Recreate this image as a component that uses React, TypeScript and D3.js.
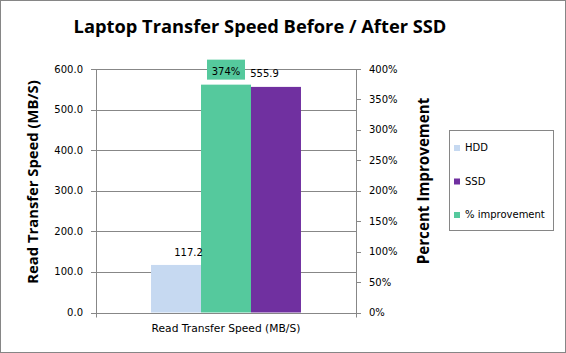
import React from "react";
import * as d3 from "d3";

const title = "Laptop Transfer Speed Before / After SSD";
const category = "Read Transfer Speed (MB/S)";
const seriesOrder = ["HDD", "% improvement", "SSD"];
const speedValues = { HDD: 117.2, SSD: 555.9 };
const improvement = 3.743; // fraction (374%)
const leftTicks = [0, 100, 200, 300, 400, 500, 600];
const rightTicks = [0, 0.5, 1, 1.5, 2, 2.5, 3, 3.5, 4];
const legendItems = ["HDD", "SSD", "% improvement"];
const colors: Record<string, string> = {
  HDD: "#C6D9F1",
  SSD: "#7030A0",
  "% improvement": "#55C99D",
};

const W = 566;
const H = 353;
const plotL = 96;
const plotR = 356;
const plotT = 69;
const plotB = 312.5;
const font = "'DejaVu Sans', Verdana, sans-serif";
const boldFont = "'Open Sans', 'Noto Sans', sans-serif";
const grid = "#878787";

export default function App() {
  const yL = d3.scaleLinear().domain([0, 600]).range([plotB, plotT]);
  const yR = d3.scaleLinear().domain([0, 4]).range([plotB, plotT]);
  const xCat = d3.scaleBand().domain([category]).range([plotL, plotR]).paddingInner(0).paddingOuter(0.367);
  const xS = d3.scaleBand().domain(seriesOrder).range([0, xCat.bandwidth()]);
  const bx = (s: string) => (xCat(category) as number) + (xS(s) as number);
  const bw = xS.bandwidth();

  const hddX = bx("HDD");
  const ssdX = bx("SSD");
  const impX = bx("% improvement");

  return (
    <svg width={W} height={H} style={{ position: "absolute", left: 0, top: 0, display: "block" }}>
      <rect x={0.5} y={0.5} width={W - 1} height={H - 1} fill="#fff" stroke="#868686" />
      <text x={260} y={33} textAnchor="middle" fontFamily={boldFont} fontWeight={700} fontSize={18.3} fill="#000">
        {title}
      </text>
      {leftTicks.map((t) => (
        <g key={"l" + t}>
          <line x1={plotL - 5} x2={plotR} y1={Math.round(yL(t)) + 0.5} y2={Math.round(yL(t)) + 0.5} stroke={grid} />
          <text x={83} y={yL(t) + 3.5} textAnchor="end" fontFamily={font} fontSize={10} fill="#000">
            {t.toFixed(1)}
          </text>
        </g>
      ))}
      {rightTicks.map((t) => (
        <g key={"r" + t}>
          <line x1={plotR} x2={plotR + 5} y1={Math.round(yR(t)) + 0.5} y2={Math.round(yR(t)) + 0.5} stroke={grid} />
          <text x={369} y={yR(t) + 3.5} textAnchor="start" fontFamily={font} fontSize={10} fill="#000">
            {Math.round(t * 100) + "%"}
          </text>
        </g>
      ))}
      <line x1={plotL + 0.5} x2={plotL + 0.5} y1={plotT} y2={plotB + 5} stroke={grid} />
      <line x1={plotR + 0.5} x2={plotR + 0.5} y1={plotT} y2={plotB + 5} stroke={grid} />

      <rect x={hddX} y={yL(speedValues.HDD)} width={bw} height={plotB - yL(speedValues.HDD)} fill={colors.HDD} />
      <rect x={impX} y={yR(improvement)} width={bw} height={plotB - yR(improvement)} fill={colors["% improvement"]} />
      <rect x={ssdX} y={yL(speedValues.SSD)} width={bw} height={plotB - yL(speedValues.SSD)} fill={colors.SSD} />
      <line x1={plotL} x2={plotR} y1={Math.round(plotB) + 0.5} y2={Math.round(plotB) + 0.5} stroke={grid} />

      <text x={hddX + bw / 2 + 12.5} y={yL(speedValues.HDD) - 9} textAnchor="middle" fontFamily={font} fontSize={10} fill="#000">
        {speedValues.HDD.toFixed(1)}
      </text>
      <text x={ssdX + bw / 2 - 11.5} y={yL(speedValues.SSD) - 10} textAnchor="middle" fontFamily={font} fontSize={10} fill="#000">
        {speedValues.SSD.toFixed(1)}
      </text>
      <rect x={impX + bw / 2 - 19} y={yR(improvement) - 25} width={38} height={20} fill={colors["% improvement"]} />
      <text x={impX + bw / 2} y={yR(improvement) - 10} textAnchor="middle" fontFamily={font} fontSize={10} fill="#000">
        {Math.round(improvement * 100) + "%"}
      </text>

      <text x={xCat(category)! + xCat.bandwidth() / 2} y={332} textAnchor="middle" fontFamily={font} fontSize={10.7} fill="#000">
        {category}
      </text>

      <text transform={`translate(38,182) rotate(-90)`} textAnchor="middle" fontFamily={boldFont} fontWeight={700} fontSize={14.8} fill="#000">
        Read Transfer Speed (MB/S)
      </text>
      <text transform={`translate(429,181) rotate(-90)`} textAnchor="middle" fontFamily={boldFont} fontWeight={700} fontSize={15.2} fill="#000">
        Percent Improvement
      </text>

      <rect x={449.5} y={130.5} width={104} height={100} fill="#fff" stroke="#868686" />
      {legendItems.map((s, i) => (
        <g key={s}>
          <rect x={454} y={145 + i * 33.5} width={6} height={6} fill={colors[s]} />
          <text x={465} y={151 + i * 33.5} fontFamily={font} fontSize={10} fill="#000">
            {s}
          </text>
        </g>
      ))}
    </svg>
  );
}
